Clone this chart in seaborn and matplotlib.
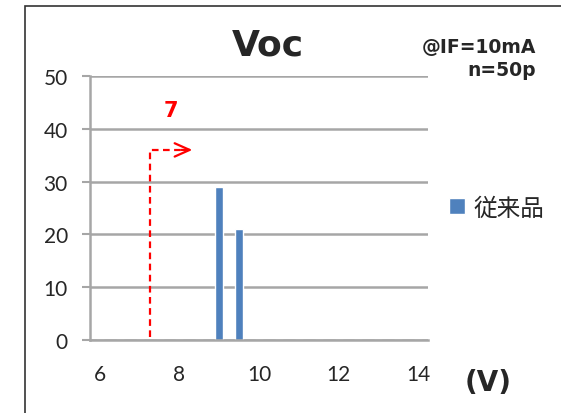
import seaborn as sns
import matplotlib.pyplot as plt
import matplotlib.patches as mpatches
import pandas as pd

# histogram bins (V) and counts
bins = [6.0, 6.5, 7.0, 7.5, 8.0, 8.5, 9.0, 9.5, 10.0, 10.5,
        11.0, 11.5, 12.0, 12.5, 13.0, 13.5, 14.0]
counts = [0, 0, 0, 0, 0, 0, 29, 21, 0, 0,
          0, 0, 0, 0, 0, 0, 0]
tick_labels = ["6", "8", "10", "12", "14"]
series_name = "従来品"

# threshold marker
thr_volt = 7.25
thr_level = 36
thr_end_volt = 8.2
thr_label = "7"

sns.set_theme(style="white")
plt.rcParams['font.family'] = ['Lato', 'Noto Sans CJK JP', 'DejaVu Sans']

df = pd.DataFrame({"bin": [f"{b:g}" for b in bins], "count": counts})

fig = plt.figure(figsize=(5.61, 4.14), dpi=100)
ax = fig.add_axes([90/561, 1-341/414, (428-90)/561, (341-77)/414])

sns.barplot(data=df, x="bin", y="count", order=df["bin"], color="#4F81BD",
            saturation=1, width=0.4, ax=ax, label=series_name)

grid_c = "#A6A6A6"
ax.set_ylim(0, 50)
ax.set_yticks(range(0, 51, 10))
ax.yaxis.grid(True, color=grid_c, linewidth=1.8)
ax.set_axisbelow(True)
ax.set_xlim(-0.5, len(bins) - 0.5)

# labels every 4th category, ticks on category borders
ax.set_xticks(range(0, len(bins), 4))
ax.set_xticklabels(tick_labels)
ax.set_xticks([i - 0.5 for i in range(len(bins) + 1)], minor=True)
ax.tick_params(axis="x", which="major", length=0, pad=17, labelsize=15)
ax.tick_params(axis="x", which="minor", length=6, width=1.5, color=grid_c, direction="out")
ax.tick_params(axis="y", length=6, width=1.5, color=grid_c, pad=10, labelsize=15, left=True)
ax.set_xlabel("")
ax.set_ylabel("")

for s in ["top", "right"]:
    ax.spines[s].set_visible(False)
for s in ["left", "bottom"]:
    ax.spines[s].set_color(grid_c)
    ax.spines[s].set_linewidth(1.8)

# threshold arrow
def vpos(v):
    return (v - bins[0]) / (bins[1] - bins[0])

x0, x1 = vpos(thr_volt), vpos(thr_end_volt)
ax.plot([x0, x0, x1], [0.5, thr_level, thr_level], color="red",
        linestyle=(0, (3, 2)), linewidth=1.6, clip_on=False)
ax.annotate("", xy=(x1 + 0.25, thr_level), xytext=(x1 - 0.3, thr_level),
            arrowprops=dict(arrowstyle="->,head_length=0.9,head_width=0.4", color="red",
                            linewidth=1.6, shrinkA=0, shrinkB=0))
ax.text(x0 + 1.05, thr_level + 7.5, thr_label, color="red", fontsize=15,
        fontweight="bold", family="DejaVu Sans", ha="center", va="center")

# legend
ax.legend(loc="center left", bbox_to_anchor=(1.0, 0.5), frameon=False,
          handlelength=0.68, handleheight=0.68, handletextpad=0.35,
          prop={"family": ["Noto Sans CJK JP"], "size": 17})

fig.text(268/561, 1-46/414, "Voc", fontsize=26, fontweight="bold",
         family="DejaVu Sans", ha="center", va="center")
fig.text(536/561, 1-47/414, "@IF=10mA", fontsize=13.5, fontweight="bold",
         family="DejaVu Sans", ha="right", va="center")
fig.text(536/561, 1-71/414, "n=50p", fontsize=13.5, fontweight="bold",
         family="DejaVu Sans", ha="right", va="center")
fig.text(488/561, 1-383/414, "(V)", fontsize=20, fontweight="bold",
         family="DejaVu Sans", ha="center", va="center")

# outer frame
fig.add_artist(mpatches.Rectangle((25/561, -0.1), 1.0, 1.1 - 6.5/414,
                                  transform=fig.transFigure, fill=False,
                                  edgecolor="#333333", linewidth=1.2))

fig.savefig("out.png", dpi=100)
